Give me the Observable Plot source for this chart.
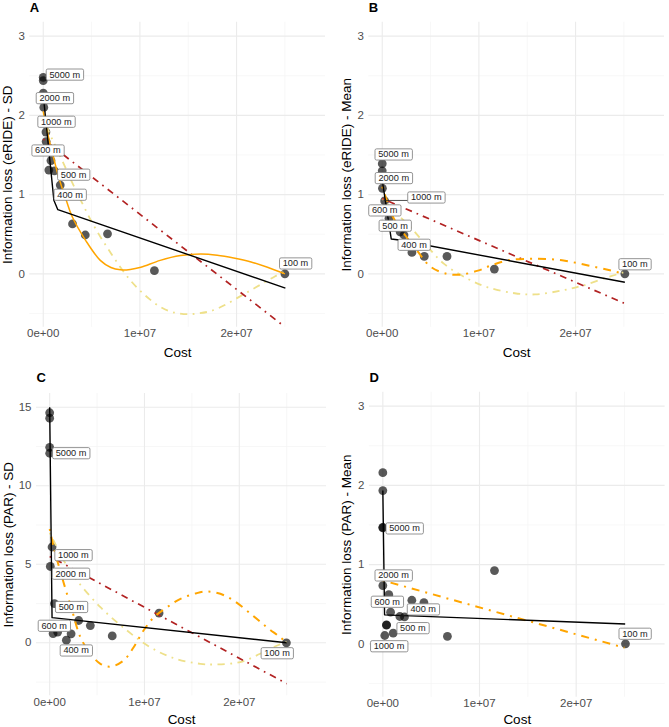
<!DOCTYPE html>
<html>
<head>
<meta charset="utf-8">
<script src="https://cdn.jsdelivr.net/npm/d3@7"></script>
<script src="https://cdn.jsdelivr.net/npm/@observablehq/plot@0.6"></script>
<style>
  body { margin: 0; background: #fff; font-family: "Liberation Sans", Arial, sans-serif; }
  #wrap { position: relative; width: 669px; height: 727px; overflow: hidden; }
  .panel { position: absolute; }
</style>
</head>
<body>
<div id="wrap"></div>
<script>
// ---------------- DATA ----------------
const xTickValues = [0, 1e7, 2e7];
const xTickLabels = ["0e+00", "1e+07", "2e+07"];
const xMinorValues = [5e6, 1.5e7, 2.5e7];

const yTicksSmall = [0, 1, 2, 3];
const yTickLabelsSmall = ["0", "1", "2", "3"];
const yMinorSmall = [-0.5, 0.5, 1.5, 2.5];
const yTicksC = [0, 5, 10, 15];
const yTickLabelsC = ["0", "5", "10", "15"];
const yMinorC = [-2.5, 2.5, 7.5, 12.5];

const panelLetters = ["A", "B", "C", "D"];
const yTitles = [
  "Information loss (eRIDE) - SD",
  "Information loss (eRIDE) - Mean",
  "Information loss (PAR) - SD",
  "Information loss (PAR) - Mean"
];
const xTitle = "Cost";

// Panel A points
const costA = [0, 0, 10000, 60000, 280000, 300000, 800000, 580000, 1150000, 1760000, 3030000, 4350000, 6650000, 11500000, 25000000];
const lossA = [2.48, 2.44, 2.28, 2.10, 1.79, 1.67, 1.43, 1.31, 1.30, 1.12, 0.63, 0.49, 0.505, 0.04, 0.0];
const labelTextA = ["5000 m", "2000 m", "1000 m", "600 m", "500 m", "400 m", "100 m"];
const labelPointA = [0, 2, 4, 6, 8, 9, 14];

// Panel B points
const costB = [0, 0, 20000, 250000, 700000, 1100000, 1850000, 2250000, 3070000, 4350000, 6700000, 11600000, 25100000];
const lossB = [1.39, 1.30, 1.08, 0.92, 0.70, 0.60, 0.53, 0.49, 0.27, 0.22, 0.22, 0.06, 0.0];
const labelTextB = ["5000 m", "2000 m", "1000 m", "600 m", "500 m", "400 m", "100 m"];
const labelPointB = [0, 2, 3, 4, 5, 6, 12];

// Panel C points
const costC = [0, 0, 0, 0, 250000, 70000, 500000, 360000, 840000, 1760000, 2260000, 3060000, 4290000, 6600000, 11540000, 24970000];
const lossC = [14.65, 14.3, 12.45, 12.07, 6.1, 4.86, 2.5, 0.59, 0.68, 0.17, 0.57, 1.42, 1.10, 0.44, 1.89, 0.0];
const labelTextC = ["5000 m", "1000 m", "2000 m", "500 m", "600 m", "400 m", "100 m"];
const labelPointC = [3, 4, 5, 6, 7, 9, 15];

// Panel D points
const costD = [0, 0, 0, 0, 0, 620000, 800000, 380000, 380000, 200000, 1070000, 1760000, 2240000, 3000000, 4250000, 6680000, 11550000, 25100000];
const lossD = [2.16, 1.935, 1.47, 1.465, 0.735, 0.62, 0.40, 0.24, 0.235, 0.105, 0.134, 0.345, 0.34, 0.55, 0.52, 0.095, 0.925, 0.0];
const labelTextD = ["5000 m", "2000 m", "600 m", "400 m", "500 m", "1000 m", "100 m"];
const labelPointD = [2, 4, 5, 11, 10, 9, 17];

// Fitted curves
const segCostA = [0, 1100000, 1510000, 25050000];
const segLossA = [2.26, 0.93, 0.81, -0.18];
const polyCostA = [0, 500000, 1000000, 1600000, 2300000, 3000000, 4400000, 5900000, 7000000, 8000000, 9000000, 10100000, 12100000, 14200000, 16300000, 18000000, 19700000, 21500000, 23200000, 25000000];
const polyLossA = [2.05, 1.75, 1.5, 1.22, 0.96, 0.72, 0.42, 0.17, 0.08, 0.05, 0.055, 0.083, 0.17, 0.23, 0.25, 0.235, 0.20, 0.15, 0.083, 0.0];
const quadCostA = [0, 1e6, 2e6, 3e6, 4e6, 5e6, 6e6, 7e6, 8e6, 9e6, 10e6, 11e6, 12e6, 13e6, 14e6, 15e6, 16e6, 17e6, 18e6, 19e6, 20e6, 21e6, 22e6, 23e6, 24e6, 25e6];
const quadLossA = [1.95, 1.68, 1.42, 1.15, 0.9, 0.66, 0.45, 0.26, 0.08, -0.08, -0.21, -0.32, -0.41, -0.47, -0.50, -0.51, -0.50, -0.48, -0.44, -0.38, -0.31, -0.24, -0.17, -0.10, -0.03, 0.03];
const linCostA = [0, 25000000];
const linLossA = [1.70, -0.67];

const segCostB = [0, 930000, 1550000, 25100000];
const segLossB = [1.18, 0.44, 0.43, -0.106];
const polyCostB = [0, 500000, 1100000, 2300000, 3500000, 5000000, 6700000, 8100000, 9900000, 11250000, 13000000, 15800000, 18600000, 21300000, 23700000, 25000000];
const polyLossB = [1.1, 0.92, 0.72, 0.5, 0.31, 0.09, 0.0, -0.01, 0.04, 0.105, 0.17, 0.19, 0.17, 0.105, 0.04, 0.0];
const quadCostB = [0, 1000000, 2000000, 3000000, 4700000, 6400000, 8800000, 10900000, 13700000, 15800000, 18600000, 20700000, 23400000, 25000000];
const quadLossB = [0.95, 0.82, 0.70, 0.58, 0.34, 0.125, -0.06, -0.17, -0.245, -0.26, -0.21, -0.15, -0.04, 0.02];
const linCostB = [0, 25000000];
const linLossB = [0.95, -0.37];

const segCostC = [0, 250000, 25000000];
const segLossC = [15.0, 1.6, 0.0];
const polyCostC = [0, 420000, 1300000, 2360000, 3240000, 4300000, 5350000, 6400000, 7800000, 8860000, 9900000, 11000000, 12400000, 13800000, 15500000, 16600000, 18000000, 19400000, 21200000, 22900000, 24300000, 25000000];
const polyLossC = [7.25, 6.1, 4.18, 2.06, 0.36, -0.70, -1.34, -1.52, -1.13, -0.28, 0.78, 1.63, 2.27, 2.8, 3.16, 3.27, 3.12, 2.69, 1.85, 0.99, 0.36, 0.0];
const quadCostC = [0, 420000, 1480000, 2890000, 5350000, 8160000, 10600000, 13100000, 15900000, 17400000, 20100000, 22200000, 24000000, 25000000];
const quadLossC = [7.0, 6.5, 5.24, 3.97, 2.27, 0.78, -0.28, -0.98, -1.34, -1.38, -1.23, -0.70, -0.17, 0.05];
const linCostC = [0, 25000000];
const linLossC = [5.5, -2.6];

const segCostD = [0, 180000, 25070000];
const segLossD = [1.935, 0.366, 0.25];
const linCostD = [0, 25000000];
const linLossD = [0.80, -0.05];

// ---------------- LAYOUT / STYLE ----------------
const STYLE = {
  seg:      {stroke: "#000000", strokeWidth: 1.4, curve: "linear"},
  poly:     {stroke: "#FFA500", strokeWidth: 1.5, curve: "catmull-rom"},
  polyDash: {stroke: "#FFA500", strokeWidth: 2.0, strokeDasharray: "2,6,8,6", curve: "catmull-rom"},
  quad:     {stroke: "#EEE08A", strokeWidth: 1.8, strokeDasharray: "1.8,5.4,7.2,5.4", curve: "catmull-rom"},
  lin:      {stroke: "#B22222", strokeWidth: 1.7, strokeDasharray: "1.7,5.1,6.8,5.1", curve: "linear"}
};
const TICK_FONT = "11.5px";

const xDomain = [-1.39e6, 29.2e6];
const smallDomain = [-0.675, 3.175];
const domainC = [-3.375, 15.875];

const panels = [
  {
    left: 0, top: 0, width: 334, height: 360,
    margins: {top: 21.8, right: 9, bottom: 33.2, left: 29.3},
    yDomain: smallDomain, yTicks: yTicksSmall, yTickLabels: yTickLabelsSmall, yMinor: yMinorSmall,
    cost: costA, loss: lossA, labelText: labelTextA, labelPoint: labelPointA,
    nudges: [[21.5, -2.7], [11.4, 5], [10.4, -10.2], [-3.1, -10], [19.2, 3.9], [9.8, 9.7], [10.6, -10.3]],
    leaders: [],
    lines: [[quadCostA, quadLossA, "quad"], [linCostA, linLossA, "lin"], [polyCostA, polyLossA, "poly"], [segCostA, segLossA, "seg"]],
    yTitleDx: -21.8, letterDy: -14.3, xTitleDy: 24.9
  },
  {
    left: 334, top: 0, width: 335, height: 360,
    margins: {top: 21.8, right: 5, bottom: 33.2, left: 34.3},
    yDomain: smallDomain, yTicks: yTicksSmall, yTickLabels: yTickLabelsSmall, yMinor: yMinorSmall,
    cost: costB, loss: lossB, labelText: labelTextB, labelPoint: labelPointB,
    nudges: [[11.3, -9.2], [11.3, -10.1], [41.6, -3.4], [-4.3, -7.9], [2.2, -0.5], [13.9, 13], [10, -9.5]],
    leaders: [2],
    lines: [[quadCostB, quadLossB, "quad"], [linCostB, linLossB, "lin"], [polyCostB, polyLossB, "polyDash"], [segCostB, segLossB, "seg"]],
    yTitleDx: -22.3, letterDy: -14.3, xTitleDy: 24.9
  },
  {
    left: 0, top: 360, width: 334, height: 367,
    margins: {top: 33, right: 8, bottom: 31.7, left: 36},
    yDomain: domainC, yTicks: yTicksC, yTickLabels: yTickLabelsC, yMinor: yMinorC,
    cost: costC, loss: lossC, labelText: labelTextC, labelPoint: labelPointC,
    nudges: [[21.4, 0], [21.3, 8.2], [20.5, 7.3], [17, 3.5], [1.1, -7.7], [9.8, 10.4], [-9.3, 10.5]],
    leaders: [],
    lines: [[quadCostC, quadLossC, "quad"], [linCostC, linLossC, "lin"], [polyCostC, polyLossC, "polyDash"], [segCostC, segLossC, "seg"]],
    yTitleDx: -27.7, letterDy: -15.5, xTitleDy: 23.6
  },
  {
    left: 334, top: 360, width: 335, height: 367,
    margins: {top: 31.8, right: 4.4, bottom: 30.2, left: 34.9},
    yDomain: smallDomain, yTicks: yTicksSmall, yTickLabels: yTickLabelsSmall, yMinor: yMinorSmall,
    cost: costD, loss: lossD, labelText: labelTextD, labelPoint: labelPointD,
    nudges: [[21.7, 1.1], [10.7, -10.1], [-1.6, 7.1], [23.4, -7], [19.7, -5], [4.3, 10.8], [9.5, -10]],
    leaders: [3],
    lines: [[linCostD, linLossD, "polyDash"], [segCostD, segLossD, "seg"]],
    yTitleDx: -22.9, letterDy: -14.3, xTitleDy: 22.6
  }
];

// ---------------- BUILD ----------------
const wrap = document.getElementById("wrap");
const FONT = "'Liberation Sans', Arial, Helvetica, sans-serif";
const svgNS = "http://www.w3.org/2000/svg";

panels.forEach((p, k) => {
  const pts = p.cost.map((c, i) => ({cost: c, loss: p.loss[i]}));
  const marks = [
    Plot.ruleX(xMinorValues, {stroke: "#F3F3F3", strokeWidth: 0.7}),
    Plot.ruleY(p.yMinor, {stroke: "#F3F3F3", strokeWidth: 0.7}),
    Plot.ruleX(xTickValues, {stroke: "#EBEBEB", strokeWidth: 1.1}),
    Plot.ruleY(p.yTicks, {stroke: "#EBEBEB", strokeWidth: 1.1}),
    Plot.axisX({ticks: xTickValues, tickFormat: d => xTickLabels[xTickValues.indexOf(d)], tickSize: 0, tickPadding: 2, label: null, color: "#4D4D4D"}),
    Plot.axisY({ticks: p.yTicks, tickFormat: d => p.yTickLabels[p.yTicks.indexOf(d)], tickSize: 0, tickPadding: 5, label: null, color: "#4D4D4D"}),
    Plot.dot(pts, {x: "cost", y: "loss", r: 4.4, fill: "#000", fillOpacity: 0.65})
  ];
  for (const [xs, ys, styleName] of p.lines) {
    const s = STYLE[styleName];
    marks.push(Plot.line(xs.map((x, i) => ({x, y: ys[i]})), {
      x: "x", y: "y", stroke: s.stroke, strokeWidth: s.strokeWidth,
      strokeDasharray: s.strokeDasharray, strokeLinecap: "butt", curve: s.curve, clip: true
    }));
  }
  p.labelText.forEach((t, i) => {
    const [dx, dy] = p.nudges[i];
    marks.push(Plot.text([pts[p.labelPoint[i]]], {
      x: "cost", y: "loss", text: () => t, dx, dy,
      fontSize: 9.2, fill: "#222", ariaDescription: "repel-label"
    }));
  });
  marks.push(Plot.text([yTitles[k]], {text: d => d, frameAnchor: "left", rotate: -90, dx: p.yTitleDx, textAnchor: "middle", lineAnchor: "middle", fontSize: 13.5, fill: "#000"}));
  marks.push(Plot.text([xTitle], {text: d => d, frameAnchor: "bottom", dy: p.xTitleDy, textAnchor: "middle", lineAnchor: "middle", fontSize: 13.5, fill: "#000"}));
  marks.push(Plot.text([panelLetters[k]], {text: d => d, frameAnchor: "top-left", dy: p.letterDy, textAnchor: "start", lineAnchor: "middle", fontSize: 13, fontWeight: "bold", fill: "#000"}));

  const chart = Plot.plot({
    width: p.width, height: p.height,
    marginTop: p.margins.top, marginRight: p.margins.right, marginBottom: p.margins.bottom, marginLeft: p.margins.left,
    x: {type: "linear", domain: xDomain},
    y: {type: "linear", domain: p.yDomain},
    style: {fontFamily: FONT, fontSize: "11px", background: "white", overflow: "visible"},
    marks
  });

  const div = document.createElement("div");
  div.className = "panel";
  div.style.left = p.left + "px";
  div.style.top = p.top + "px";
  div.style.width = p.width + "px";
  div.style.height = p.height + "px";
  div.appendChild(chart);
  wrap.appendChild(div);

  // enlarge the axis tick label text (found by its content, outside the repel labels)
  const tickTexts = new Set([...xTickLabels, ...p.yTickLabels]);
  chart.querySelectorAll("text").forEach(t => {
    const g = t.parentNode;
    if (g && g.getAttribute && g.getAttribute("aria-description") === "repel-label") return;
    if (tickTexts.has(t.textContent.trim())) {
      t.style.fontSize = TICK_FONT;
      t.setAttribute("font-size", TICK_FONT);
    }
  });

  // ggrepel-like label boxes and leader segments
  const xs = chart.scale("x"), ys = chart.scale("y");
  let groups = Array.from(chart.querySelectorAll('g[aria-description="repel-label"]'));
  const svgRect = chart.getBoundingClientRect();
  let leaderLayer = null;
  groups.forEach((g, i) => {
    const text = g.querySelector("text");
    if (!text) return;
    const bb = text.getBBox();
    const padX = 3.2, padY = 0.6;
    const rect = document.createElementNS(svgNS, "rect");
    rect.setAttribute("x", bb.x - padX);
    rect.setAttribute("y", bb.y - padY);
    rect.setAttribute("width", bb.width + 2 * padX);
    rect.setAttribute("height", bb.height + 2 * padY);
    rect.setAttribute("rx", 1.6);
    rect.setAttribute("fill", "white");
    rect.setAttribute("stroke", "#7A7A7A");
    rect.setAttribute("stroke-width", 0.8);
    const tr = text.getAttribute("transform");
    if (tr) rect.setAttribute("transform", tr);
    text.parentNode.insertBefore(rect, text);
    if (p.leaders.includes(i)) {
      const pt = pts[p.labelPoint[i]];
      const px = xs.apply(pt.cost), py = ys.apply(pt.loss);
      const r = rect.getBoundingClientRect();
      const x0 = r.left - svgRect.left, x1 = r.right - svgRect.left;
      const y0 = r.top - svgRect.top, y1 = r.bottom - svgRect.top;
      const tx = Math.max(x0, Math.min(px, x1));
      const ty = Math.max(y0, Math.min(py, y1));
      if (!leaderLayer) {
        leaderLayer = document.createElementNS(svgNS, "g");
        groups[0].parentNode.insertBefore(leaderLayer, groups[0]);
      }
      const line = document.createElementNS(svgNS, "line");
      line.setAttribute("x1", px); line.setAttribute("y1", py);
      line.setAttribute("x2", tx); line.setAttribute("y2", ty);
      line.setAttribute("stroke", "#222");
      line.setAttribute("stroke-width", 0.8);
      leaderLayer.appendChild(line);
    }
  });
});
</script>
</body>
</html>
